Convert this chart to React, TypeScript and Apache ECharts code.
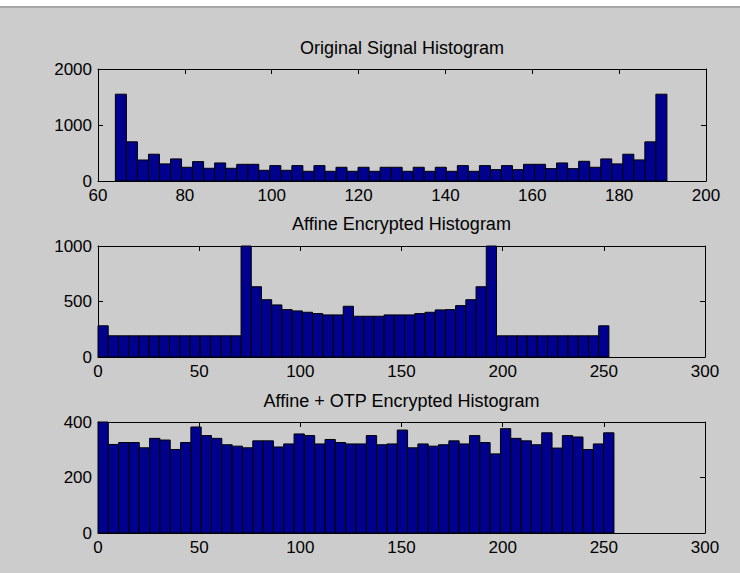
import React, { useEffect, useRef } from "react";
import * as echarts from "echarts";

// ---- Data ----
const titles = [
  "Original Signal Histogram",
  "Affine Encrypted Histogram",
  "Affine + OTP Encrypted Histogram",
];

// Plot 1: original signal, 50 bins from 64 to 191
const originalStart = 64;
const originalBinWidth = 2.54;
const originalCounts = [
  1550, 700, 375, 478, 305, 394, 245, 346, 227, 322,
  227, 298, 298, 191, 275, 191, 275, 173, 275, 173,
  245, 173, 245, 173, 245, 245, 173, 245, 173, 245,
  173, 275, 173, 275, 203, 275, 203, 298, 298, 221,
  322, 221, 352, 245, 394, 305, 478, 376, 699, 1550,
];

// Plot 2: affine encrypted, 50 bins from 0
const affineStart = 0;
const affineBinWidth = 5.05;
const affineCounts = [
  281, 191, 191, 191, 191, 191, 191, 191, 191, 191,
  191, 191, 191, 191, 1000, 633, 516, 469, 427, 415,
  403, 391, 379, 379, 457, 367, 367, 367, 379, 379,
  379, 391, 403, 424, 427, 463, 516, 633, 1000, 191,
  191, 191, 191, 191, 191, 191, 191, 191, 191, 281,
];

// Plot 3: affine + OTP encrypted, 50 bins from 0 to 255
const otpStart = 0;
const otpBinWidth = 5.1;
const otpCounts = [
  400, 319, 326, 326, 307, 341, 335, 301, 326, 382,
  351, 341, 318, 313, 307, 332, 332, 310, 321, 357,
  351, 321, 337, 326, 321, 321, 351, 318, 321, 371,
  307, 321, 313, 318, 332, 321, 351, 326, 285, 376,
  341, 332, 318, 361, 306, 351, 346, 301, 321, 361,
];

// Axis ranges and ticks
const xRanges = [
  { min: 60, max: 200, interval: 20 },
  { min: 0, max: 300, interval: 50 },
  { min: 0, max: 300, interval: 50 },
];
const yRanges = [
  { min: 0, max: 2000, interval: 1000 },
  { min: 0, max: 1000, interval: 500 },
  { min: 0, max: 400, interval: 200 },
];

const histograms = [
  { start: originalStart, width: originalBinWidth, counts: originalCounts },
  { start: affineStart, width: affineBinWidth, counts: affineCounts },
  { start: otpStart, width: otpBinWidth, counts: otpCounts },
];

const grids = [
  { left: 98, top: 69, width: 608, height: 112 },
  { left: 98, top: 246, width: 607, height: 111 },
  { left: 98, top: 422, width: 607, height: 111 },
];
const titleY = [48, 224, 401];

const FONT = "'Liberation Sans', Arial, Helvetica, sans-serif";
const BAR_COLOR = "#00008f";

export default function App() {
  const ref = useRef<HTMLDivElement>(null);

  useEffect(() => {
    if (!ref.current) return;
    const chart = echarts.init(ref.current, undefined, { renderer: "svg" });

    const xAxis: any[] = [];
    const yAxis: any[] = [];
    const series: any[] = [];
    const plain = (v: number) => String(v);

    grids.forEach((_, i) => {
      const axisCommon = {
        type: "value",
        gridIndex: i,
        splitLine: { show: false },
        axisLine: { show: true, onZero: false, lineStyle: { color: "#000", width: 1 } },
        axisTick: { show: true, inside: true, length: 5, lineStyle: { color: "#000", width: 1 } },
      };
      xAxis.push({
        ...axisCommon,
        ...xRanges[i],
        position: "bottom",
        axisLabel: { show: true, color: "#000", fontSize: 17, fontFamily: FONT, margin: 6, formatter: plain },
      });
      xAxis.push({
        ...axisCommon,
        ...xRanges[i],
        position: "top",
        axisLabel: { show: false },
      });
      yAxis.push({
        ...axisCommon,
        ...yRanges[i],
        position: "left",
        axisLabel: { show: true, color: "#000", fontSize: 17, fontFamily: FONT, margin: 6, formatter: plain },
      });
      yAxis.push({
        ...axisCommon,
        ...yRanges[i],
        position: "right",
        axisLabel: { show: false },
      });

      const h = histograms[i];
      const data = h.counts.map((c, k) => [h.start + k * h.width, h.start + (k + 1) * h.width, c]);
      series.push({
        type: "custom",
        xAxisIndex: 2 * i,
        yAxisIndex: 2 * i,
        encode: { x: [0, 1], y: 2 },
        data,
        renderItem: (params: any, api: any) => {
          const p0 = api.coord([api.value(0), api.value(2)]);
          const p1 = api.coord([api.value(1), 0]);
          return {
            type: "rect",
            shape: { x: p0[0], y: p0[1], width: p1[0] - p0[0], height: p1[1] - p0[1] },
            style: { fill: BAR_COLOR, stroke: "#000", lineWidth: 1 },
          };
        },
      });
    });

    const graphic: any[] = [
      { type: "rect", left: 0, top: 0, shape: { x: 0, y: 0, width: 740, height: 6 }, style: { fill: "#ffffff" } },
      { type: "line", shape: { x1: 0, y1: 7, x2: 740, y2: 7 }, style: { stroke: "#a6a6a6", lineWidth: 2 } },
    ];
    titles.forEach((t, i) => {
      graphic.push({
        type: "text",
        x: grids[i].left + grids[i].width / 2,
        y: titleY[i],
        style: {
          text: t,
          fill: "#000",
          font: `18px ${FONT}`,
          textAlign: "center",
          textVerticalAlign: "middle",
        },
      });
    });

    chart.setOption({
      animation: false,
      backgroundColor: "#cccccc",
      grid: grids.map((g) => ({ ...g, containLabel: false })),
      xAxis,
      yAxis,
      series,
      graphic,
    });

    return () => chart.dispose();
  }, []);

  return (
    <div
      ref={ref}
      style={{ position: "absolute", left: 0, top: 0, width: 740, height: 573 }}
    />
  );
}
